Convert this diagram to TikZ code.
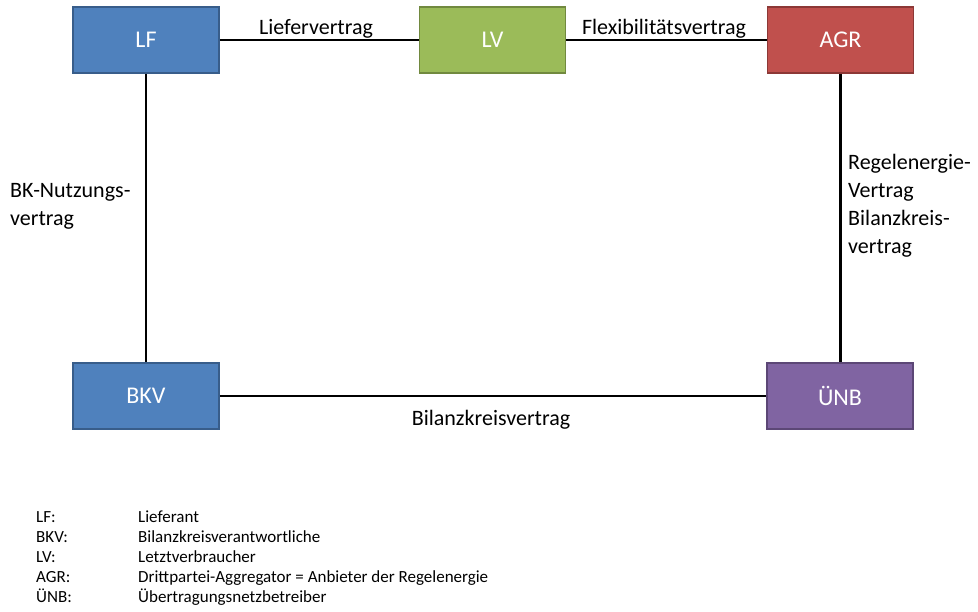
\documentclass[tikz,border=0pt]{standalone}
\usepackage{fontspec}
\setmainfont{Carlito}
\definecolor{lfblue}{HTML}{4F81BD}
\definecolor{lfblueb}{HTML}{385D8A}
\definecolor{lvgreen}{HTML}{9BBB59}
\definecolor{lvgreenb}{HTML}{71893F}
\definecolor{agrred}{HTML}{C0504D}
\definecolor{agrredb}{HTML}{8C3836}
\definecolor{unbpurple}{HTML}{8064A2}
\definecolor{unbpurpleb}{HTML}{5C4776}
\begin{document}
\begin{tikzpicture}[x=1pt,y=-1pt,
  box/.style={draw, line width=1.5pt, minimum width=146pt, minimum height=66pt, inner sep=0pt, text=white, font=\fontsize{24}{28}\selectfont},
  conn/.style={line width=2.8pt, black},
  lbl/.style={inner sep=0pt, font=\fontsize{22}{28}\selectfont},
  leg/.style={inner sep=0pt, anchor=base west, font=\fontsize{17}{20}\selectfont}]
\useasboundingbox (0,0) rectangle (978,611);
\node[box, fill=lfblue, draw=lfblueb] (lf) at (146,40) {LF};
\node[box, fill=lvgreen, draw=lvgreenb] (lv) at (492.5,40) {LV};
\node[box, fill=agrred, draw=agrredb] (agr) at (840.5,40) {AGR};
\node[box, fill=lfblue, draw=lfblueb] (bkv) at (146,396) {BKV};
\node[box, fill=unbpurple, draw=unbpurpleb] (unb) at (840,396) {ÜNB};
\draw[conn] (lf) -- (lv);
\draw[conn] (lv) -- (agr);
\draw[conn] (lf) -- (bkv);
\draw[conn] (agr.south) -- (agr.south |- unb.north);
\draw[conn] (bkv) -- (unb);
\node[lbl, anchor=base] (l1) at (316,34) {Liefervertrag};
\node[lbl, anchor=base] (l2) at (664,34) {Flexibilitätsvertrag};
\node[lbl, anchor=base] (l3) at (491,425) {Bilanzkreisvertrag};
\node[lbl, anchor=base west] (l4a) at (10,197) {BK-Nutzungs-};
\node[lbl, anchor=base west] (l4b) at (10,225) {vertrag};
\node[lbl, anchor=base west] (l5a) at (848,169) {Regelenergie-};
\node[lbl, anchor=base west] (l5b) at (848,197) {Vertrag};
\node[lbl, anchor=base west] (l5c) at (848,225) {Bilanzkreis-};
\node[lbl, anchor=base west] (l5d) at (848,253) {vertrag};
\node[leg] (k1) at (36,522) {LF:};
\node[leg] (k2) at (36,542) {BKV:};
\node[leg] (k3) at (36,562) {LV:};
\node[leg] (k4) at (36,582) {AGR:};
\node[leg] (k5) at (36,602) {ÜNB:};
\node[leg] (v1) at (138,522) {Lieferant};
\node[leg] (v2) at (138,542) {Bilanzkreisverantwortliche};
\node[leg] (v3) at (138,562) {Letztverbraucher};
\node[leg] (v4) at (138,582) {Drittpartei-Aggregator = Anbieter der Regelenergie};
\node[leg] (v5) at (138,602) {Übertragungsnetzbetreiber};
\end{tikzpicture}
\end{document}
